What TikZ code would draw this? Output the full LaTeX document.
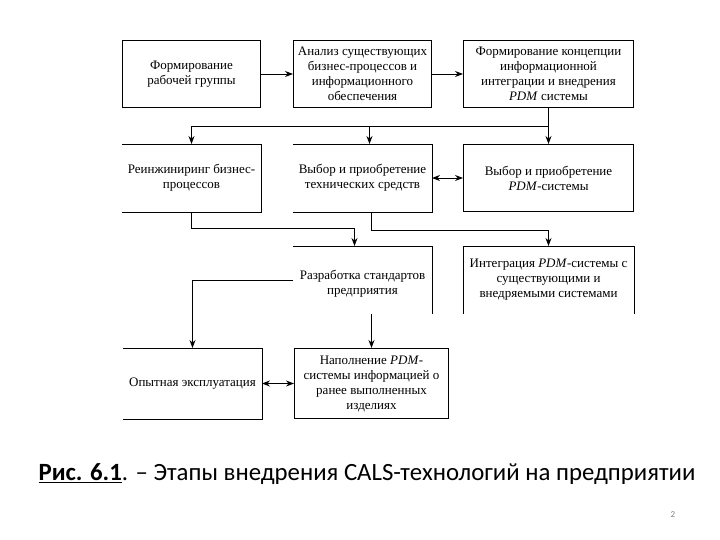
\documentclass[tikz,border=0pt]{standalone}
\usepackage{fontspec}
\setmainfont{Liberation Serif}
\newfontfamily\capfont{Carlito}
\usetikzlibrary{positioning,calc,arrows.meta}
\tikzset{
  stagefont/.style={font=\fontsize{13bp}{15bp}\selectfont},
  stagebox/.style={stagefont, rectangle, align=center, inner sep=1bp,
    minimum width=138bp, minimum height=67bp},
  stageboxdrawn/.style={stagebox, draw},
  stageline/.style={line width=1bp},
  stagearrow/.style={-{Stealth[length=8bp,width=6bp]}, line width=1bp},
  stagearrowboth/.style={{Stealth[length=8bp,width=6bp]}-{Stealth[length=8bp,width=6bp]}, line width=1bp},
}

\begin{document}
\begin{tikzpicture}[line width=1bp]
  \useasboundingbox (0,0) rectangle (720bp,-540bp);

  % Row 1
  \node[stageboxdrawn, anchor=north west] (A) at (122bp,-40bp)
    {Формирование\\рабочей группы};
  \node[stageboxdrawn, right=32bp of A] (B)
    {Анализ существующих\\бизнес-процессов и\\информационного\\обеспечения};
  \node[stageboxdrawn, right=31bp of B, minimum width=170bp] (C)
    {Формирование концепции\\информационной\\интеграции и внедрения\\\textit{PDM} системы};

  % Row 2
  \node[stagebox, below=36bp of A] (D) {Реинжиниринг бизнес-\\процессов};
  \node[stagebox, below=36bp of B] (E) {Выбор и приобретение\\технических средств};
  \node[stageboxdrawn, below=36bp of C, minimum width=170bp] (F)
    {Выбор и приобретение\\\textit{PDM}-системы};

  % Row 3
  \node[stagebox, below=34bp of E] (G) {\\[2bp]Разработка стандартов\\предприятия};
  \node[stagebox, below=34bp of F, minimum width=170bp] (H)
    {Интеграция \textit{PDM}-системы с\\существующими и\\внедряемыми системами};

  % Row 4
  \node[stagebox, below=34bp of G, xshift=-170bp, minimum height=70bp] (I)
    {Опытная эксплуатация};
  \node[stageboxdrawn, right=32bp of I, minimum width=154bp, minimum height=70bp] (J)
    {Наполнение \textit{PDM}-\\системы информацией о\\ранее выполненных\\изделиях};

  % Open box sides
  \draw[stageline] (D.north west) -- (D.north east) -- (D.south east) -- (D.south west);
  \draw[stageline] (E.north west) -- (E.north east) -- (E.south east) -- (E.south west);
  \draw[stageline] (G.north west) -- (G.north east) -- (G.south east);
  \draw[stageline] (H.south west) -- (H.north west) -- (H.north east) -- (H.south east);
  \draw[stageline] (I.north west) -- (I.north east) -- (I.south east) -- (I.south west);

  % Helper points
  \coordinate (split) at ($(C.south)!0.5!(F.north)$);
  \coordinate (midD) at ($(D.south)!0.5!(G.north)+(0,1bp)$);
  \coordinate (midE) at ($(E.south)!0.5!(G.north)+(0,-1bp)$);
  \coordinate (Ein) at ($(E.north)+(7bp,0)$);
  \coordinate (Eout) at ($(E.south)+(9bp,0)$);
  \coordinate (Gin) at ($(G.north)+(-8bp,0)$);

  % Horizontal arrows
  \draw[stagearrow] (A) -- (B);
  \draw[stagearrow] (B) -- (C);
  \draw[stagearrowboth] (E) -- (F);
  \draw[stagearrowboth] (I) -- (J);

  % Branch from C
  \draw[stagearrow] (C.south) -- (F.north);
  \draw[stageline] (split) -- (split -| D);
  \draw[stagearrow] (split -| D) -- (D.north);
  \draw[stagearrow] (split -| Ein) -- (Ein);

  % Down to row 3
  \draw[stagearrow] (D.south) |- (midD -| Gin) -- (Gin);
  \draw[stagearrow] (Eout) |- (midE -| H.north) -- (H.north);

  % Down to row 4
  \draw[stagearrow] (G.west) -| (I.north);
  \draw[stagearrow] (G.south -| J.north) -- (J.north);

  % Caption
  \node[font=\capfont\fontsize{24.8bp}{28bp}\selectfont] (cap) at (367bp,-474bp)
    {\textbf{\underline{Рис. 6.1}}. – Этапы внедрения CALS-технологий на предприятии};
  \node[font=\capfont\fontsize{9bp}{10bp}\selectfont, text=gray] (page) at (673bp,-515bp) {2};
\end{tikzpicture}
\end{document}
